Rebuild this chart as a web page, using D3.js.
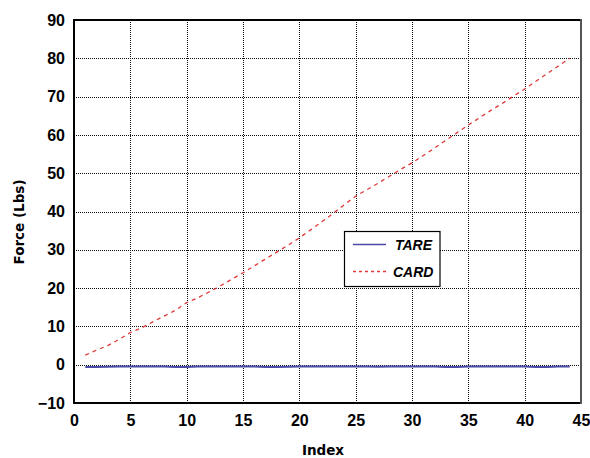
<!DOCTYPE html>
<html>
<head>
<meta charset="utf-8">
<script src="https://cdn.jsdelivr.net/npm/d3@7"></script>
<style>
  html, body { margin: 0; padding: 0; background: #fff; }
  svg { display: block; }
</style>
</head>
<body>
<svg id="chart" width="590" height="458"></svg>
<script>
// ---- data ----
const indexValues = d3.range(1, 45);
const tareValues = [
  -0.6, -0.6, -0.55, -0.45, -0.45, -0.45, -0.45, -0.45, -0.6, -0.6,
  -0.45, -0.45, -0.45, -0.45, -0.45, -0.45, -0.6, -0.6, -0.55, -0.45,
  -0.45, -0.45, -0.45, -0.45, -0.45, -0.5, -0.55, -0.45, -0.45, -0.45,
  -0.45, -0.5, -0.6, -0.6, -0.45, -0.45, -0.45, -0.45, -0.45, -0.5,
  -0.6, -0.6, -0.45, -0.45
];
const cardValues = [
  2.5, 3.8, 5.0, 6.6, 8.4, 9.6, 11.2, 12.7, 14.2, 16.2,
  17.5, 19.0, 20.6, 22.3, 24.0, 25.8, 27.6, 29.4, 31.2, 33.1,
  35.2, 37.3, 39.5, 41.8, 44.0, 45.7, 47.4, 49.2, 51.0, 52.7,
  54.6, 56.6, 58.6, 60.6, 62.6, 64.5, 66.4, 68.2, 70.1, 72.0,
  74.0, 76.0, 78.0, 80.0
];
const xTicks = [0, 5, 10, 15, 20, 25, 30, 35, 40, 45];
const yTicks = [-10, 0, 10, 20, 30, 40, 50, 60, 70, 80, 90];
const seriesNames = ["TARE", "CARD"];
const xTitle = "Index";
const yTitle = "Force (Lbs)";

// ---- layout ----
const svg = d3.select("#chart");
const L = 74, R = 581, T = 20, B = 403;
const x = d3.scaleLinear().domain([0, 45]).range([L, R]);
const y = d3.scaleLinear().domain([-10, 90]).range([B, T]);
const tickFont = "'Liberation Sans', Arial, sans-serif";
const titleFont = "'DejaVu Sans', Verdana, sans-serif";

// grid
const gx = svg.append("g").attr("transform", `translate(0,${B})`)
  .call(d3.axisBottom(x).tickValues(xTicks.filter(v => v > 0 && v < 45)).tickSize(-(B - T)).tickFormat(""));
gx.select(".domain").remove();
gx.selectAll("line").attr("stroke", "#111").attr("stroke-width", 1).attr("stroke-dasharray", "1,1").attr("shape-rendering", "crispEdges");

const gy = svg.append("g").attr("transform", `translate(${L},0)`)
  .call(d3.axisLeft(y).tickValues(yTicks.filter(v => v > -10 && v < 90)).tickSize(-(R - L)).tickFormat(""));
gy.select(".domain").remove();
gy.selectAll("line").attr("stroke", "#111").attr("stroke-width", 1).attr("stroke-dasharray", "1,1").attr("shape-rendering", "crispEdges");

// tick labels
const ax = svg.append("g").attr("transform", `translate(0,${B})`)
  .call(d3.axisBottom(x).tickValues(xTicks).tickSize(0).tickPadding(12));
ax.select(".domain").remove();
ax.selectAll("text").attr("font-family", tickFont).attr("font-weight", "bold").attr("font-size", 16).attr("fill", "#000");

const ay = svg.append("g").attr("transform", `translate(${L},0)`)
  .call(d3.axisLeft(y).tickValues(yTicks).tickSize(0).tickPadding(9));
ay.select(".domain").remove();
ay.selectAll("text").attr("font-family", tickFont).attr("font-weight", "bold").attr("font-size", 16).attr("fill", "#000");

// lines
const line = d3.line().x((d, i) => x(indexValues[i])).y(d => y(d));
svg.append("path").datum(tareValues).attr("d", line)
  .attr("fill", "none").attr("stroke", "#4a4aa8").attr("stroke-width", 2);

svg.append("path").datum(cardValues).attr("d", line)
  .attr("fill", "none").attr("stroke", "#e03838").attr("stroke-width", 1.3)
  .attr("stroke-dasharray", "4,4");

// frame
svg.append("line").attr("x1", L).attr("x2", R).attr("y1", T).attr("y2", T).attr("stroke", "#000").attr("stroke-width", 2);
svg.append("line").attr("x1", L).attr("x2", R).attr("y1", B).attr("y2", B).attr("stroke", "#000").attr("stroke-width", 2);
svg.append("line").attr("x1", L).attr("x2", L).attr("y1", T - 1).attr("y2", B + 1).attr("stroke", "#000").attr("stroke-width", 2);
svg.append("line").attr("x1", R).attr("x2", R).attr("y1", T - 1).attr("y2", B + 1).attr("stroke", "#555").attr("stroke-width", 2);

// axis titles
svg.append("text").attr("x", 323).attr("y", 455).attr("text-anchor", "middle")
  .attr("font-family", titleFont).attr("font-weight", "bold").attr("font-size", 13.5).text(xTitle);
svg.append("text").attr("transform", "translate(24,222) rotate(-90)").attr("text-anchor", "middle")
  .attr("font-family", titleFont).attr("font-weight", "bold").attr("font-size", 13.5).text(yTitle);

// legend
const lg = svg.append("g");
lg.append("rect").attr("x", 344.5).attr("y", 231.5).attr("width", 95.5).attr("height", 55)
  .attr("fill", "#fff").attr("stroke", "#000").attr("stroke-width", 1.2);
const legendStyles = [
  { color: "#4a4aa8", dash: null, w: 1.5 },
  { color: "#e03838", dash: "3,3", w: 1.5 }
];
seriesNames.forEach((name, i) => {
  const yy = 244.5 + i * 27;
  lg.append("line").attr("x1", 353).attr("x2", 386).attr("y1", yy).attr("y2", yy)
    .attr("stroke", legendStyles[i].color).attr("stroke-width", legendStyles[i].w)
    .attr("stroke-dasharray", legendStyles[i].dash);
  lg.append("text").attr("x", i === 0 ? 395 : 393).attr("y", yy + 5)
    .attr("font-family", tickFont).attr("font-weight", "bold").attr("font-style", "italic")
    .attr("font-size", 14).text(name);
});
</script>
</body>
</html>
